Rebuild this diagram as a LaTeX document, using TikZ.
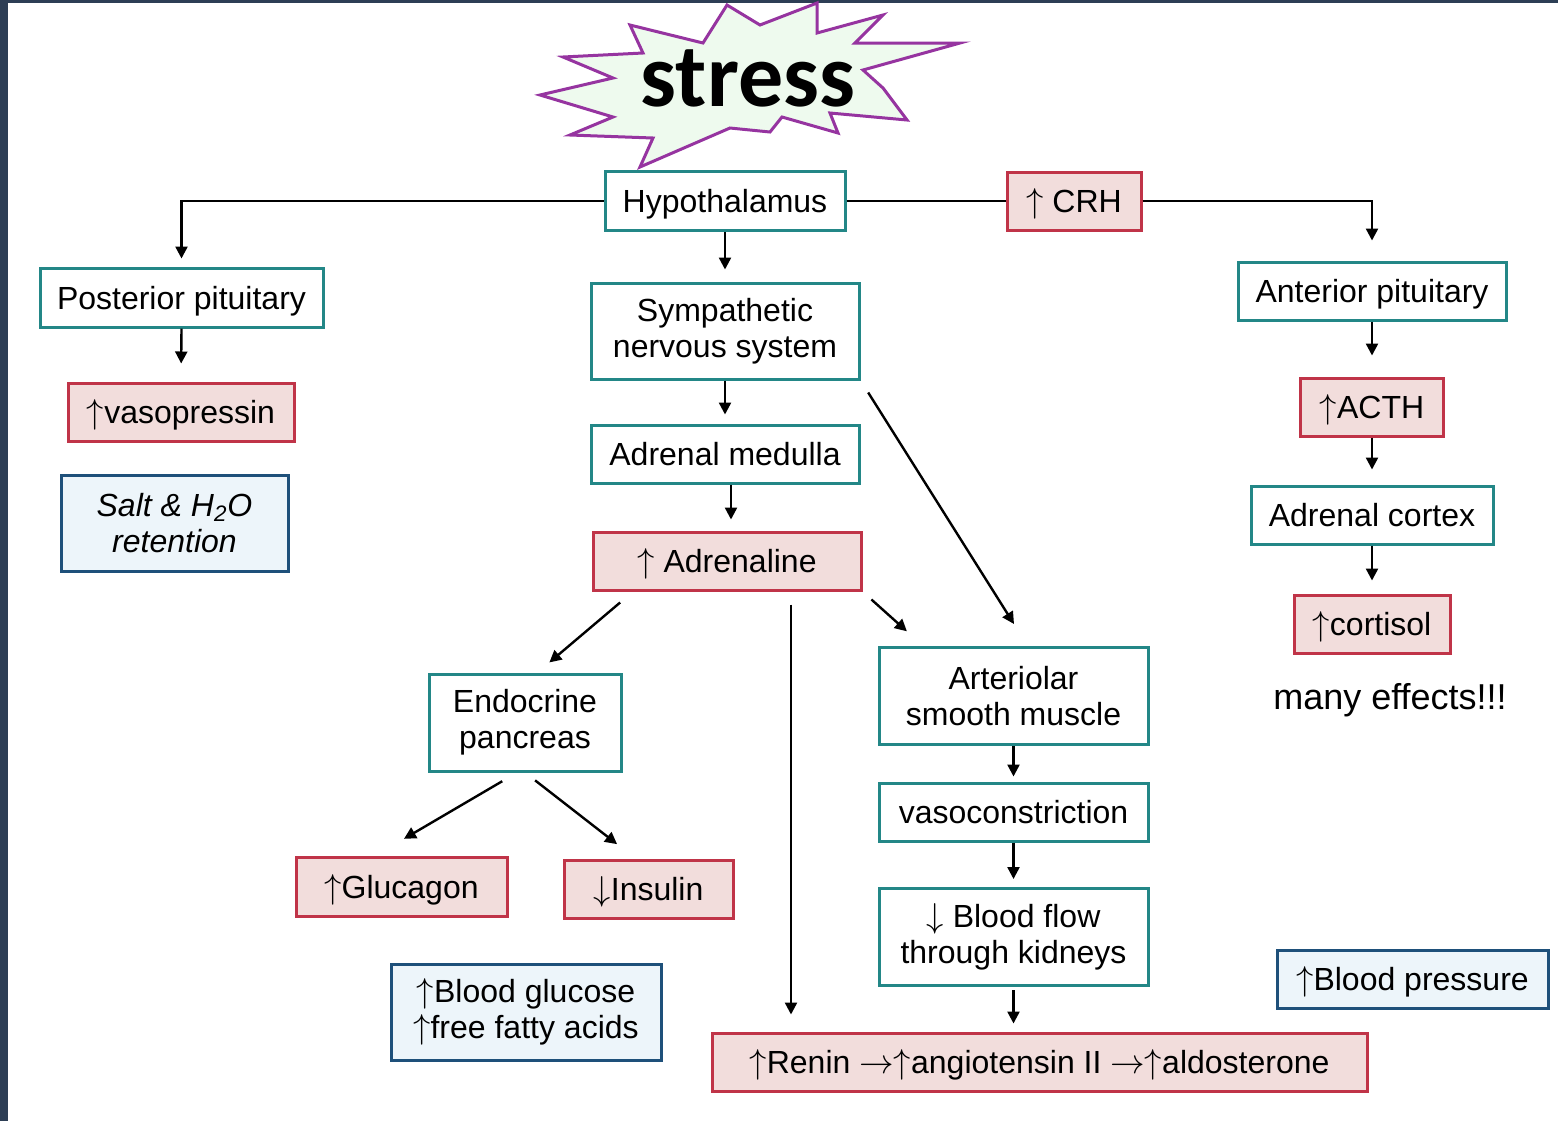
\documentclass[tikz,border=0pt]{standalone}
\usepackage{fontspec}
\setmainfont{Liberation Sans}
\newfontfamily\burstfont{Carlito}
\usetikzlibrary{positioning, arrows.meta, calc}

\definecolor{tealline}{RGB}{35,135,135}
\definecolor{redline}{RGB}{192,52,72}
\definecolor{redfill}{RGB}{242,221,220}
\definecolor{blueline}{RGB}{30,80,122}
\definecolor{bluefill}{RGB}{237,245,250}
\definecolor{burstline}{RGB}{150,52,160}
\definecolor{burstfill}{RGB}{238,250,238}
\definecolor{slate}{RGB}{45,62,85}

\newcommand{\up}{$\uparrow$}
\newcommand{\down}{$\downarrow$}
\newcommand{\tto}{$\rightarrow$}

\begin{document}
\begin{tikzpicture}[
    x=0.5pt, y=-0.5pt,
    box/.style={rectangle, draw=tealline, line width=1.5pt, fill=white, inner sep=0pt,
        align=center, font=\fontsize{16}{18}\selectfont},
    hormone/.style={box, draw=redline, fill=redfill},
    effect/.style={box, draw=blueline, fill=bluefill},
    oneline/.style={text height=11.5pt, text depth=0pt},
    arr/.style={-{Triangle[length=6pt, width=6pt]}, line width=1.2pt},
    burst/.style={draw=burstline, fill=burstfill, line width=1.5pt, line join=miter},
]

    % slide background
    \fill[slate] (0,0) rectangle (1558,1121);
    \fill[white] (8,3) rectangle (1558,1121);
    \useasboundingbox (0,0) rectangle (1558,1121);

    % stress burst
    \draw[burst] (727,5) -- (760,25) -- (817,3) -- (817,33) -- (883,15) -- (855,43)
        -- (960,43) -- (863,70) -- (883,88) -- (907,120) -- (830,113) -- (838,133)
        -- (782,117) -- (770,132) -- (730,128) -- (640,167) -- (653,138) -- (570,135)
        -- (613,117) -- (540,95) -- (613,78) -- (563,57) -- (643,53) -- (630,25)
        -- (703,43) -- cycle;
    \node[font=\burstfont\bfseries\fontsize{45}{45}\selectfont] (stress) at (748,78) {stress};

    % Hypothalamus row
    \node[box, oneline, minimum width=120pt, minimum height=29.5pt] (hypo) at (725,201) {Hypothalamus};
    \node[hormone, oneline, minimum width=67pt, minimum height=29pt] (crh) at (1074,201) {\up{} CRH};

    % left branch
    \node[box, oneline, minimum width=141.5pt, minimum height=29.5pt] (postpit) at (181.5,297.5) {Posterior pituitary};
    \node[hormone, oneline, minimum width=113pt, minimum height=29pt] (vaso) at (181,412) {\up vasopressin};
    \node[effect, minimum width=113.5pt, minimum height=48pt, font=\fontsize{16}{18}\selectfont\itshape]
        (salt) at (174.5,523) {Salt \& H\textsubscript{2}O\\retention};

    % middle branch
    \node[box, minimum width=134pt, minimum height=48pt] (symp) at (725,331) {Sympathetic\\nervous system};
    \node[box, oneline, minimum width=134pt, minimum height=29pt] (medulla) at (725,454) {Adrenal medulla};
    \node[hormone, oneline, minimum width=134pt, minimum height=29pt] (adr) at (727,561) {\up{} Adrenaline};
    \node[box, minimum width=96pt, minimum height=48.5pt] (panc) at (525,722.5) {Endocrine\\pancreas};
    \node[hormone, oneline, minimum width=105.5pt, minimum height=29.5pt] (gluc) at (401.5,886.5) {\up Glucagon};
    \node[hormone, oneline, minimum width=84.5pt, minimum height=29pt] (ins) at (648.5,889) {\down Insulin};
    \node[effect, minimum width=135pt, minimum height=48pt] (fuel) at (526,1012) {\up Blood glucose\\\up free fatty acids};

    % vessels and kidneys
    \node[box, minimum width=134.5pt, minimum height=48.5pt] (art) at (1013.5,696) {Arteriolar\\smooth muscle};
    \node[box, oneline, minimum width=134.5pt, minimum height=29pt] (vasocon) at (1013.5,812) {vasoconstriction};
    \node[box, minimum width=134.5pt, minimum height=48.5pt] (flow) at (1013.5,937) {\down{} Blood flow\\through kidneys};
    \node[hormone, oneline, minimum width=327.5pt, minimum height=29pt] (renin) at (1039.5,1062) {\up Renin \tto\up angiotensin II \tto\up aldosterone};
    \node[effect, oneline, minimum width=135.5pt, minimum height=29pt] (bp) at (1412.5,979) {\up Blood pressure};

    % right branch
    \node[box, oneline, minimum width=134pt, minimum height=29pt] (antpit) at (1372,291) {Anterior pituitary};
    \node[hormone, oneline, minimum width=71.5pt, minimum height=29pt, below=27.5pt of antpit] (acth) {\up ACTH};
    \node[box, oneline, minimum width=121pt, minimum height=29pt, below=23.5pt of acth] (cortex) {Adrenal cortex};
    \node[hormone, oneline, minimum width=78pt, minimum height=29pt, below=24pt of cortex] (cort) {\up cortisol};
    \node[font=\fontsize{18}{20}\selectfont] (effects) at (1390,700) {many effects!!!};

    % arrows from the hypothalamus
    \draw[arr, shorten >=4pt] (hypo.west) -| (postpit.north);
    \draw[line width=1.2pt] (hypo.east) -- (crh.west);
    \draw[arr, shorten >=10pt] (crh.east) -| (antpit.north);
    \draw[arr, shorten >=6pt] (hypo.south) -- (symp.north);

    % left column
    \draw[arr, shorten >=9pt] (postpit.south) -- (vaso.north);

    % sympathetic route
    \draw[arr, shorten >=4.5pt] (symp.south) -- (medulla.north);
    \draw[arr, shorten >=5.5pt] ([xshift=3pt]medulla.south) -- ([xshift=3pt]medulla.south |- adr.north);
    \draw[arr, shorten <=8.5pt, shorten >=7.8pt] (adr.198) -- (panc.76);
    \draw[arr, shorten <=6.5pt, shorten >=8.5pt] ([xshift=32pt]adr.south) -- ([xshift=32pt]adr.south |- renin.north);
    \draw[arr, shorten <=6pt, shorten >=11pt] (adr.south east) -- (art.151.5);
    \draw[arr, shorten <=7.2pt, shorten >=13pt] (symp.-20) -- (art.74);

    % pancreas
    \draw[arr, shorten <=8.6pt, shorten >=16.5pt] (panc.261) -- (gluc.130);
    \draw[arr, shorten <=6.4pt, shorten >=11.7pt] (panc.south) -- (ins.113);

    % kidneys
    \draw[arr, shorten >=2.5pt] (art.south) -- (vasocon.north);
    \draw[arr, shorten >=4pt] (vasocon.south) -- (flow.north);
    \draw[arr, shorten <=1.5pt, shorten >=4pt] (flow.south) -- (flow.south |- renin.north);

    % right column
    \draw[arr, shorten >=10.5pt] (antpit.south) -- (acth.north);
    \draw[arr, shorten >=7.5pt] (acth.south) -- (cortex.north);
    \draw[arr, shorten >=6.5pt] (cortex.south) -- (cort.north);

\end{tikzpicture}
\end{document}
